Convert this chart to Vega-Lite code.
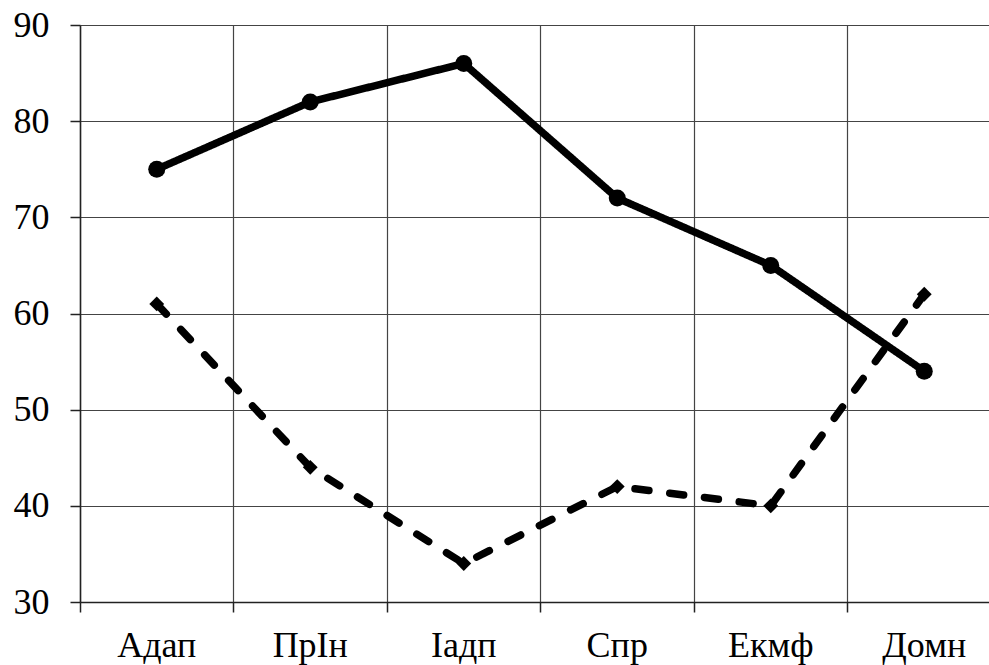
{
  "$schema": "https://vega.github.io/schema/vega-lite/v6.json",
  "autosize": {"type": "none"},
  "width": 921,
  "height": 577,
  "padding": {"left": 80, "top": 25, "right": 0, "bottom": 63},
  "background": "white",
  "config": {
    "view": {"stroke": null},
    "font": "Liberation Serif",
    "axis": {
      "labelFont": "Liberation Serif",
      "labelFontSize": 36,
      "labelColor": "black",
      "domainColor": "#222",
      "domainWidth": 1.5,
      "tickColor": "#222",
      "tickWidth": 1.5,
      "gridColor": "#444",
      "gridWidth": 1.2,
      "gridOpacity": 1,
      "title": null
    }
  },
  "data": {
    "values": [
      {"cat": "Адап", "series": "A", "v": 75},
      {"cat": "ПрІн", "series": "A", "v": 82},
      {"cat": "Іадп", "series": "A", "v": 86},
      {"cat": "Спр", "series": "A", "v": 72},
      {"cat": "Екмф", "series": "A", "v": 65},
      {"cat": "Домн", "series": "A", "v": 54},
      {"cat": "Адап", "series": "B", "v": 61},
      {"cat": "ПрІн", "series": "B", "v": 44},
      {"cat": "Іадп", "series": "B", "v": 34},
      {"cat": "Спр", "series": "B", "v": 42},
      {"cat": "Екмф", "series": "B", "v": 40},
      {"cat": "Домн", "series": "B", "v": 62}
    ]
  },
  "encoding": {
    "x": {
      "field": "cat",
      "type": "nominal",
      "sort": null,
      "scale": {"type": "band", "paddingInner": 0, "paddingOuter": 0},
      "axis": {
        "bandPosition": 0,
        "grid": true,
        "ticks": true,
        "tickSize": 10,
        "labelAngle": 0,
        "labelPadding": 16
      }
    },
    "y": {
      "field": "v",
      "type": "quantitative",
      "scale": {"domain": [30, 90], "nice": false, "zero": false},
      "axis": {
        "values": [30, 40, 50, 60, 70, 80, 90],
        "grid": true,
        "tickSize": 10,
        "labelPadding": 21
      }
    }
  },
  "layer": [
    {
      "mark": {"type": "line", "strokeWidth": 7.5, "color": "black", "strokeCap": "round", "strokeJoin": "round"},
      "encoding": {
        "detail": {"field": "series"},
        "strokeDash": {
          "field": "series",
          "type": "nominal",
          "scale": {"domain": ["A", "B"], "range": [[1, 0], [14, 21]]},
          "legend": null
        }
      }
    },
    {
      "mark": {"type": "point", "filled": true, "color": "black", "opacity": 1},
      "encoding": {
        "shape": {
          "field": "series",
          "type": "nominal",
          "scale": {"domain": ["A", "B"], "range": ["circle", "diamond"]},
          "legend": null
        },
        "size": {
          "field": "series",
          "type": "nominal",
          "scale": {"domain": ["A", "B"], "range": [290, 220]},
          "legend": null
        }
      }
    }
  ]
}
